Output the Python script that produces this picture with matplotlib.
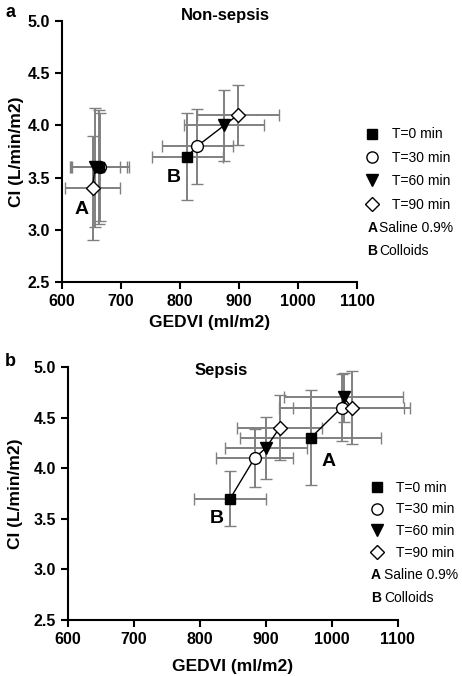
import matplotlib
matplotlib.use("Agg")
import matplotlib.pyplot as plt
from matplotlib.lines import Line2D

plt.rcParams['font.family'] = ['Liberation Sans', 'DejaVu Sans']

times = ["T=0 min", "T=30 min", "T=60 min", "T=90 min"]
markers = ["s", "o", "v", "D"]
filled = [True, False, True, False]
msizes = [7, 8.5, 9, 7.5]
draw_order = [1, 3, 2, 0]

# Non-sepsis
ns_A_x = [663, 665, 656, 652]
ns_A_y = [3.6, 3.6, 3.6, 3.4]
ns_A_xerr = [47, 48, 42, 47]
ns_A_yerr = [0.55, 0.52, 0.57, 0.5]

ns_B_x = [812, 829, 875, 898]
ns_B_y = [3.7, 3.8, 4.0, 4.1]
ns_B_xerr = [60, 60, 68, 70]
ns_B_yerr = [0.42, 0.36, 0.34, 0.29]

# Sepsis
s_A_x = [968, 1015, 1018, 1030]
s_A_y = [4.3, 4.6, 4.7, 4.6]
s_A_xerr = [107, 95, 90, 89]
s_A_yerr = [0.47, 0.33, 0.24, 0.36]

s_B_x = [846, 883, 900, 921]
s_B_y = [3.7, 4.1, 4.2, 4.4]
s_B_xerr = [55, 58, 62, 64]
s_B_yerr = [0.27, 0.29, 0.31, 0.32]

xticks = [600, 700, 800, 900, 1000, 1100]
yticks = [2.5, 3.0, 3.5, 4.0, 4.5, 5.0]

fig = plt.figure(figsize=(4.62, 6.76), dpi=100)
ax1 = fig.add_axes([0.134, 0.583, 0.773 - 0.134, 0.969 - 0.583])
ax2 = fig.add_axes([0.147, 0.083, 0.861 - 0.147, 0.457 - 0.083])

ecol = "#808080"


def draw_group(ax, xs, ys, xe, ye):
    ax.plot(xs, ys, color="black", lw=1.0, zorder=2)
    for i in range(len(xs)):
        _, caps, _ = ax.errorbar(xs[i], ys[i], xerr=xe[i], yerr=ye[i], fmt="none",
                                 ecolor=ecol, elinewidth=1.4, capsize=4,
                                 capthick=1.0, zorder=1, clip_on=False)
        for c in caps:
            c.set_color("black")
    for k, i in enumerate(draw_order):
        ax.plot(xs[i], ys[i], marker=markers[i], ms=msizes[i], ls="none",
                mfc="black" if filled[i] else "white", mec="black", mew=1.0,
                zorder=3 + 0.1 * k, clip_on=False)


def style(ax):
    ax.set_xlim(600, 1100)
    ax.set_ylim(2.5, 5.0)
    ax.set_xticks(xticks)
    ax.set_yticks(yticks)
    ax.set_yticklabels([f"{v:.1f}" for v in yticks])
    for s in ["top", "right"]:
        ax.spines[s].set_visible(False)
    for s in ["left", "bottom"]:
        ax.spines[s].set_linewidth(1.5)
    ax.tick_params(direction="out", length=5, width=1.5, labelsize=11.5)
    for lab in ax.get_xticklabels() + ax.get_yticklabels():
        lab.set_fontweight("bold")
    ax.set_xlabel("GEDVI (ml/m2)", fontsize=12.5, fontweight="bold")
    ax.set_ylabel("CI (L/min/m2)", fontsize=12.5, fontweight="bold")


def legend(ax, anchor, spacing, ab_x, ab_y, dy):
    handles = [Line2D([], [], marker=markers[i], ms=msizes[i] * 0.95, ls="none",
                      mfc="black" if filled[i] else "white", mec="black", mew=1.0)
               for i in range(4)]
    ax.legend(handles, times, loc="upper left", bbox_to_anchor=anchor,
              frameon=False, fontsize=10, handlelength=1.0, handletextpad=0.9,
              labelspacing=spacing, borderaxespad=0, borderpad=0)
    ax.text(ab_x, ab_y, "A", transform=ax.transAxes, fontsize=10,
            fontweight="bold", va="center", ha="left")
    ax.text(ab_x + 0.04, ab_y, "Saline 0.9%", transform=ax.transAxes,
            fontsize=10, va="center", ha="left")
    ax.text(ab_x, ab_y - dy, "B", transform=ax.transAxes, fontsize=10,
            fontweight="bold", va="center", ha="left")
    ax.text(ab_x + 0.04, ab_y - dy, "Colloids", transform=ax.transAxes,
            fontsize=10, va="center", ha="left")


# Panel a
draw_group(ax1, ns_A_x, ns_A_y, ns_A_xerr, ns_A_yerr)
draw_group(ax1, ns_B_x, ns_B_y, ns_B_xerr, ns_B_yerr)
style(ax1)
ax1.xaxis.set_label_coords(0.5, -0.125)
ax1.yaxis.set_label_coords(-0.13, 0.5)
ax1.text(0.553, 1.019, "Non-sepsis", transform=ax1.transAxes, ha="center",
         va="center", fontsize=12, fontweight="bold")
ax1.text(633, 3.19, "A", fontsize=14, fontweight="bold", ha="center", va="center")
ax1.text(789, 3.5, "B", fontsize=14, fontweight="bold", ha="center", va="center")
legend(ax1, (1.028, 0.592), 0.68, 1.035, 0.207, 0.088)

# Panel b
draw_group(ax2, s_A_x, s_A_y, s_A_xerr, s_A_yerr)
draw_group(ax2, s_B_x, s_B_y, s_B_xerr, s_B_yerr)
style(ax2)
ax2.xaxis.set_label_coords(0.5, -0.155)
ax2.yaxis.set_label_coords(-0.135, 0.5)
ax2.text(0.464, 0.988, "Sepsis", transform=ax2.transAxes, ha="center",
         va="center", fontsize=12, fontweight="bold")
ax2.text(995, 4.07, "A", fontsize=14, fontweight="bold", ha="center", va="center")
ax2.text(825, 3.5, "B", fontsize=14, fontweight="bold", ha="center", va="center")
legend(ax2, (0.915, 0.55), 0.55, 0.918, 0.178, 0.091)

fig.text(0.011, 0.982, "a", fontsize=13, fontweight="bold", ha="left", va="center")
fig.text(0.011, 0.465, "b", fontsize=13, fontweight="bold", ha="left", va="center")

fig.savefig("out.png", dpi=100)
